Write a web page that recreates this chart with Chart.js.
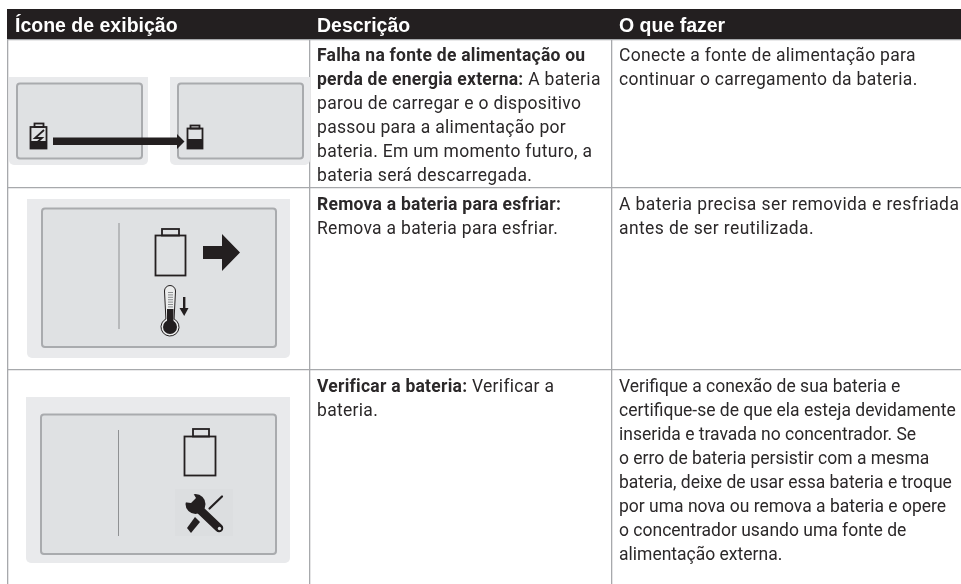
<!DOCTYPE html>
<html lang="pt">
<head>
<meta charset="utf-8">
<title>Ícone de exibição</title>
<script src="https://cdn.jsdelivr.net/npm/chart.js@4"></script>
<style>
  html, body { margin: 0; padding: 0; background: #fff; }
  canvas { display: block; }
</style>
</head>
<body>
<canvas id="tabela" width="961" height="584"></canvas>
<script>
// table content
const headers = ["Ícone de exibição", "Descrição", "O que fazer"];
const columnEdges = [8, 310, 612];
const rowEdges = [39.5, 187.5, 369.5];

const row1Desc = [
    [["Falha na fonte de alimentação ou", true]],
    [["perda de energia externa:", true], [" A bateria", false]],
    [["parou de carregar e o dispositivo", false]],
    [["passou para a alimentação por", false]],
    [["bateria. Em um momento futuro, a", false]],
    [["bateria será descarregada.", false]]
];
const row2Desc = [
    [["Remova a bateria para esfriar:", true]],
    [["Remova a bateria para esfriar.", false]]
];
const row3Desc = [
    [["Verificar a bateria:", true], [" Verificar a", false]],
    [["bateria.", false]]
];
const row1Action = [
    "Conecte a fonte de alimentação para",
    "continuar o carregamento da bateria."
];
const row2Action = [
    "A bateria precisa ser removida e resfriada",
    "antes de ser reutilizada."
];
const row3Action = [
    "Verifique a conexão de sua bateria e",
    "certifique-se de que ela esteja devidamente",
    "inserida e travada no concentrador. Se",
    "o erro de bateria persistir com a mesma",
    "bateria, deixe de usar essa bateria e troque",
    "por uma nova ou remova a bateria e opere",
    "o concentrador usando uma fonte de",
    "alimentação externa."
];
const descRows = [row1Desc, row2Desc, row3Desc];
const actionRows = [row1Action, row2Action, row3Action];
const firstBaselines = [61, 210, 392];

const lineHeight = 24;
const ink = "#231f20";
const textInk = "#2b2829";
const rule = "#a7a9ac";
const bodyFont = "17.5px Roboto";
const boldFont = "bold 17.5px Roboto";
const headFont = "bold 19.5px 'Liberation Sans'";
const actionSpacing = ["0.3px", "0.4px", "0px"];

function rr(ctx, x, y, w, h, r) {
    ctx.beginPath();
    ctx.roundRect(x, y, w, h, r);
}

function panel(ctx, o, i) {
    ctx.fillStyle = "#e9eaec";
    rr(ctx, o[0], o[1], o[2] - o[0], o[3] - o[1], [0, 0, 5, 5]);
    ctx.fill();
    ctx.fillStyle = "#dfe1e3";
    ctx.strokeStyle = "#a9abae";
    ctx.lineWidth = 2;
    rr(ctx, i[0], i[1], i[2] - i[0], i[3] - i[1], 3);
    ctx.fill();
    ctx.stroke();
}

function battery(ctx, x0, y0, x1, y1, capX0, capX1, capY, fillY, lw) {
    ctx.strokeStyle = ink;
    ctx.lineWidth = lw;
    ctx.strokeRect(x0, y0, x1 - x0, y1 - y0);
    ctx.strokeRect(capX0, capY, capX1 - capX0, y0 - capY);
    if (fillY) {
        ctx.fillStyle = ink;
        ctx.fillRect(x0, fillY, x1 - x0, y1 - fillY);
    }
}

function poly(ctx, pts) {
    ctx.beginPath();
    pts.forEach((p, i) => i ? ctx.lineTo(p[0], p[1]) : ctx.moveTo(p[0], p[1]));
    ctx.closePath();
    ctx.fill();
}

function drawIcons(ctx) {
    // linha 1
    panel(ctx, [9, 77, 148, 165], [17, 83.5, 142, 158.5]);
    panel(ctx, [170, 77, 310, 165], [178, 83.5, 303, 158.5]);
    battery(ctx, 30.5, 127, 46.5, 148.5, 34.5, 43.5, 123.5, 141, 1.8);
    ctx.strokeStyle = ink;
    ctx.lineWidth = 1.8;
    ctx.beginPath();
    ctx.moveTo(44, 130); ctx.lineTo(35, 138); ctx.lineTo(42, 138); ctx.lineTo(33, 146);
    ctx.stroke();
    ctx.fillStyle = ink;
    poly(ctx, [[53, 137.5], [177, 137.5], [177, 134], [184.5, 141.5], [177, 149], [177, 145], [53, 145]]);
    battery(ctx, 187.5, 128.5, 202.5, 148.5, 190.5, 199.5, 125.5, 139, 1.8);

    // linha 2
    panel(ctx, [27, 199, 290, 358], [42, 208.5, 276, 347]);
    ctx.fillStyle = "#8f9193";
    ctx.fillRect(118.5, 223, 1, 106);
    battery(ctx, 155.5, 235.5, 185.5, 275.5, 162, 179, 229, 0, 1.8);
    ctx.fillStyle = ink;
    poly(ctx, [[203, 246], [222, 246], [222, 234], [240, 252.5], [222, 271], [222, 259], [203, 259]]);
    // termometro
    ctx.strokeStyle = ink;
    ctx.lineWidth = 1;
    ctx.fillStyle = "#eceded";
    ctx.beginPath();
    ctx.arc(170, 327, 9, -1.1, 4.24);
    ctx.lineTo(164.5, 291);
    ctx.arc(170, 291, 5.5, Math.PI, 0);
    ctx.closePath();
    ctx.fill();
    ctx.stroke();
    ctx.fillStyle = ink;
    ctx.beginPath();
    ctx.arc(170, 327, 7, 0, Math.PI * 2);
    ctx.fill();
    ctx.fillRect(167, 309, 6.5, 16);
    ctx.fillStyle = "#8b8d8f";
    for (let y = 292; y < 308; y += 2.4) ctx.fillRect(168, y, 5, 1);
    ctx.fillStyle = ink;
    ctx.fillRect(183, 297, 2.4, 13);
    poly(ctx, [[179.5, 308], [188.5, 308], [184.2, 316]]);

    // linha 3
    panel(ctx, [26, 397, 290, 563], [41, 414.5, 276, 554]);
    ctx.fillStyle = "#8f9193";
    ctx.fillRect(118, 430, 1, 106);
    battery(ctx, 184.5, 436.5, 215.5, 475.5, 193, 209, 429, 0, 1.8);
    ctx.fillStyle = "#dcdee0";
    ctx.fillRect(175, 489, 58, 47);
    drawTools(ctx);
}

function drawTools(ctx) {
    ctx.strokeStyle = ink;
    ctx.fillStyle = ink;
    ctx.lineCap = "round";
    // chave de fenda
    ctx.lineWidth = 2.2;
    ctx.beginPath(); ctx.moveTo(209.5, 508.5); ctx.lineTo(222, 496.5); ctx.stroke();
    poly(ctx, [[187, 528], [195, 517], [200, 522], [191, 533]]);
    // chave inglesa
    ctx.lineCap = "round";
    ctx.lineWidth = 8.5;
    ctx.beginPath(); ctx.moveTo(198, 508); ctx.lineTo(219, 528); ctx.stroke();
    ctx.beginPath();
    ctx.arc(195.5, 504, 10, 0, Math.PI * 2);
    ctx.fill();
    ctx.fillStyle = "#dcdee0";
    poly(ctx, [[193, 493], [196, 498], [191, 503], [183, 502], [180, 490], [192, 489]]);
    ctx.beginPath();
    ctx.arc(219.5, 528.5, 1.7, 0, Math.PI * 2);
    ctx.fill();
}

const tablePlugin = {
    id: "tablePlugin",
    afterDraw(chart) {
        const ctx = chart.ctx;
        const x = chart.scales.x;
        const y = chart.scales.y;
        ctx.save();
        ctx.textBaseline = "alphabetic";

        // faixa do cabecalho
        ctx.fillStyle = ink;
        ctx.fillRect(x.left, y.top, x.right - x.left, y.getPixelForValue(39) - y.top);
        ctx.fillStyle = "#fff";
        ctx.font = headFont;
        headers.forEach((h, i) => {
            ctx.fillText(h, x.getPixelForValue(columnEdges[i] + 7), y.getPixelForValue(32));
        });

        ctx.fillStyle = textInk;
        descRows.forEach((lines, r) => {
            lines.forEach((runs, l) => {
                let px = x.getPixelForValue(columnEdges[1] + 7);
                const py = y.getPixelForValue(firstBaselines[r] + l * lineHeight);
                runs.forEach(run => {
                    ctx.font = run[1] ? boldFont : bodyFont;
                    ctx.letterSpacing = run[1] ? "0.25px" : "0.3px";
                    ctx.fillText(run[0], px, py);
                    px += ctx.measureText(run[0]).width;
                });
            });
        });
        ctx.font = bodyFont;
        actionRows.forEach((lines, r) => {
            ctx.letterSpacing = actionSpacing[r];
            lines.forEach((line, l) => {
                ctx.fillText(line, x.getPixelForValue(columnEdges[2] + 7), y.getPixelForValue(firstBaselines[r] + l * lineHeight));
            });
        });
        ctx.letterSpacing = "0px";

        drawIcons(ctx);
        ctx.restore();
    }
};

new Chart(document.getElementById("tabela").getContext("2d"), {
    type: "scatter",
    data: { datasets: [] },
    plugins: [tablePlugin],
    options: {
        responsive: false,
        animation: false,
        layout: { padding: { left: 7, top: 9 } },
        plugins: { legend: { display: false }, tooltip: { enabled: false } },
        scales: {
            x: {
                type: "linear",
                min: 7,
                max: 961,
                afterBuildTicks: axis => { axis.ticks = columnEdges.map(v => ({ value: v })); },
                ticks: { display: false },
                border: { display: false },
                grid: { color: rule, lineWidth: 1.3, drawTicks: false }
            },
            y: {
                type: "linear",
                reverse: true,
                min: 9,
                max: 584,
                afterBuildTicks: axis => { axis.ticks = rowEdges.map(v => ({ value: v })); },
                ticks: { display: false },
                border: { display: false },
                grid: { color: rule, lineWidth: 1.3, drawTicks: false }
            }
        }
    }
});
</script>
</body>
</html>
